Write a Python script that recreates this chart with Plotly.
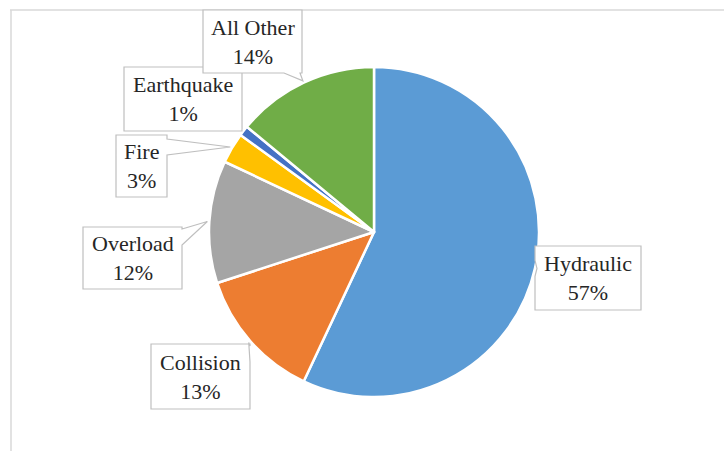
import math
import plotly.graph_objects as go

labels = ["Hydraulic", "Collision", "Overload", "Fire", "Earthquake", "All Other"]
values = [57, 13, 12, 3, 1, 14]
colors = ["#5B9BD5", "#ED7D31", "#A5A5A5", "#FFC000", "#4472C4", "#70AD47"]

W, H = 724, 451
CX, CY, R = 374, 232, 165
FONT = "Liberation Serif"

# label box positions in pixels (x0, y0, x1, y1) and side the pointer leaves from
boxes = {
    "Hydraulic": ((535, 246, 641, 310), "left"),
    "Collision": ((151, 344, 250, 409), "right"),
    "Overload": ((83, 227, 182, 289), "right"),
    "Fire": ((116, 135, 167, 197), "right"),
    "Earthquake": ((124, 67, 242, 131), "right"),
    "All Other": ((203, 10, 302, 73), "bottom"),
}

def px(x):
    return x / W

def py(y):
    return 1 - y / H

fig = go.Figure(go.Pie(
    labels=labels, values=values, sort=False, direction="clockwise", rotation=0,
    marker=dict(colors=colors, line=dict(color="white", width=2.5)),
    textinfo="none", hoverinfo="label+percent", showlegend=False,
    domain=dict(x=[px(CX - R), px(CX + R)], y=[py(CY + R), py(CY - R)]),
))

shapes = []
annotations = []
total = sum(values)
cum = 0
for lab, val in zip(labels, values):
    mid = (cum + val / 2) / total * 2 * math.pi
    cum += val
    ax = CX + (R + 2) * math.sin(mid)
    ay = CY - (R + 2) * math.cos(mid)
    (x0, y0, x1, y1), side = boxes[lab]
    hw = 8
    if side in ("left", "right"):
        c = min(max(ay, y0 + 2 + hw), y1 - 2 - hw)
        if side == "right":
            pts = [(x0, y0), (x1, y0), (x1, c - hw), (ax, ay), (x1, c + hw), (x1, y1), (x0, y1)]
        else:
            pts = [(x0, y0), (x1, y0), (x1, y1), (x0, y1), (x0, c + hw), (ax, ay), (x0, c - hw)]
    else:
        c = min(max(ax, x0 + 2 + hw), x1 - 2 - hw)
        pts = [(x0, y0), (x1, y0), (x1, y1), (c + hw, y1), (ax, ay), (c - hw, y1), (x0, y1)]
    path = "M " + " L ".join(f"{px(x):.5f},{py(y):.5f}" for x, y in pts) + " Z"
    shapes.append(dict(type="path", xref="paper", yref="paper", path=path,
                       fillcolor="white", line=dict(color="#BFBFBF", width=1.2), layer="above"))
    annotations.append(dict(
        x=px((x0 + x1) / 2), y=py((y0 + y1) / 2), xref="paper", yref="paper",
        text=f"{lab}<br>{val}%", showarrow=False, xanchor="center", yanchor="middle",
        font=dict(family=FONT, size=22, color="#262626"),
    ))

# outer frame lines (top and left)
shapes.append(dict(type="line", xref="paper", yref="paper", x0=px(10), x1=1, y0=py(10), y1=py(10),
                   line=dict(color="#D9D9D9", width=1.5), layer="below"))
shapes.append(dict(type="line", xref="paper", yref="paper", x0=px(11), x1=px(11), y0=py(10), y1=0,
                   line=dict(color="#D9D9D9", width=1.5), layer="below"))

fig.update_layout(
    width=W, height=H, margin=dict(l=0, r=0, t=0, b=0),
    paper_bgcolor="white", plot_bgcolor="white",
    font=dict(family=FONT, size=22, color="#262626"),
    shapes=shapes, annotations=annotations,
)
fig.write_html("out.html")
